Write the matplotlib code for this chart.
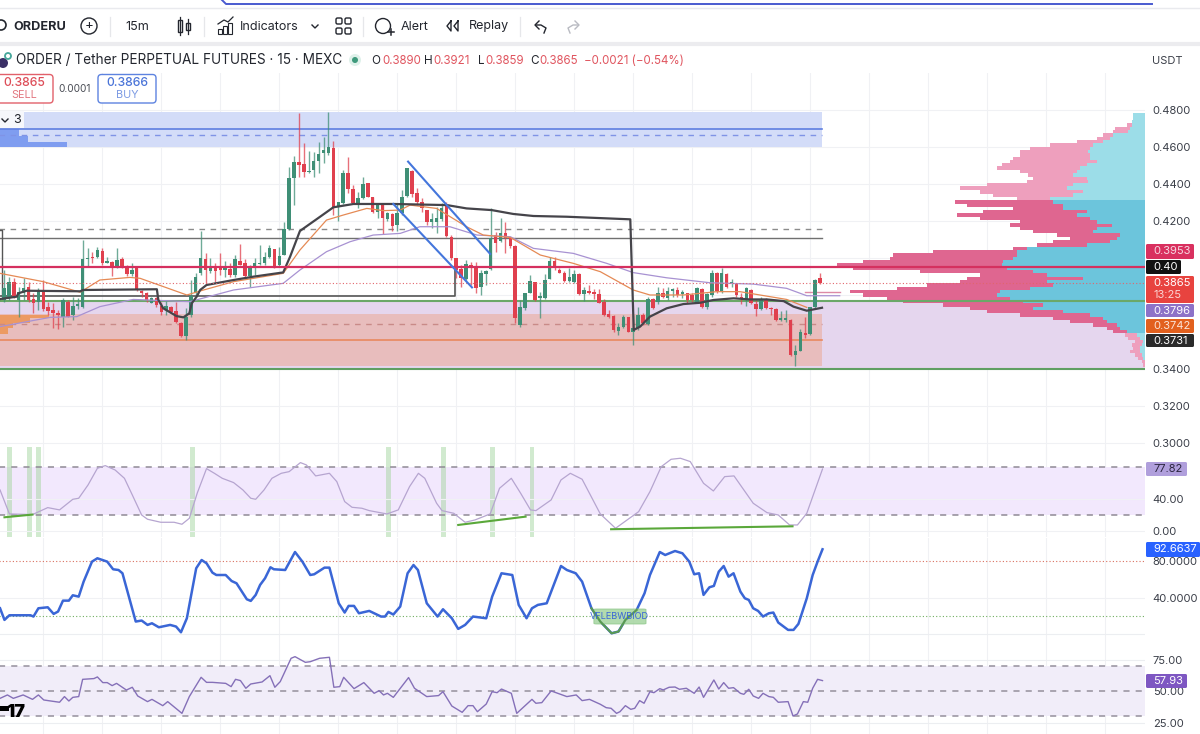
import numpy as np
import matplotlib
matplotlib.use("Agg")
import matplotlib.pyplot as plt
from matplotlib.patches import Rectangle, FancyBboxPatch, Circle

plt.rcParams["font.family"] = ["Inter", "DejaVu Sans"]

# candles, 15m bars
opens = [.3773,.3791,.3872,.3773,.3809,.3845,.3776,.3760,.3823,.3737,.3719,.3701,.3683,.3764,.3692,.3740,.3733,.3993,.4002,.4003,
 .4039,.3973,.3980,.3953,.3993,.3957,.3912,.3944,.3823,.3809,.3758,.3782,.3740,.3719,.3737,.3715,.3650,.3580,.3692,.3809,
 .3917,.3993,.3932,.3959,.3944,.3935,.3939,.3908,.3985,.3971,.3903,.3959,.3968,.3975,.4003,.4047,.3962,.4016,.4155,.4434,
 .4521,.4506,.4465,.4476,.4524,.4566,.4566,.4596,.4277,.4295,.4461,.4371,.4295,.4322,.4404,.4331,.4247,.4292,.4209,.4238,
 .4178,.4245,.4335,.4472,.4350,.4304,.4259,.4193,.4196,.4211,.4281,.4115,.3998,.3939,.3885,.3962,.3953,.3845,.3914,.3939,
 .4124,.4094,.4137,.4106,.4065,.3638,.3728,.3812,.3870,.3782,.3784,.3886,.3984,.3935,.3921,.3875,.3872,.3914,.3805,.3823,
 .3818,.3803,.3764,.3697,.3688,.3607,.3629,.3679,.3602,.3620,.3692,.3643,.3776,.3760,.3812,.3784,.3823,.3827,.3805,.3809,
 .3800,.3764,.3831,.3733,.3800,.3921,.3823,.3914,.3863,.3863,.3791,.3776,.3827,.3750,.3722,.3776,.3728,.3722,.3665,.3665,
 .3665,.3476,.3499,.3597,.3587,.3733,.3890]
highs = [.3935,.3899,.3890,.3845,.3890,.3872,.3809,.3836,.3881,.3764,.3755,.3719,.3782,.3773,.3791,.3782,.4097,.4056,.4034,.4061,
 .4052,.4007,.3984,.4052,.4007,.3962,.3971,.3944,.3827,.3818,.3791,.3791,.3764,.3773,.3740,.3764,.3656,.3728,.3881,.3921,
 .4146,.4029,.3998,.3971,.4025,.3985,.3971,.4016,.4076,.3993,.3962,.3998,.4070,.4034,.4070,.4049,.4061,.4196,.4494,.4553,
 .4782,.4620,.4580,.4575,.4629,.4656,.4791,.4634,.4304,.4476,.4548,.4395,.4358,.4440,.4407,.4331,.4295,.4295,.4247,.4241,
 .4295,.4367,.4485,.4476,.4377,.4322,.4259,.4241,.4277,.4295,.4304,.4124,.3998,.3962,.3989,.3980,.3980,.3935,.3935,.4268,
 .4142,.4214,.4196,.4111,.4070,.3773,.3812,.3908,.3872,.3818,.3914,.4003,.4003,.3944,.3932,.3944,.3935,.3917,.3845,.3854,
 .3831,.3831,.3776,.3719,.3692,.3650,.3692,.3683,.3692,.3733,.3701,.3791,.3782,.3841,.3836,.3841,.3836,.3841,.3827,.3812,
 .3812,.3841,.3836,.3812,.3935,.3926,.3948,.3921,.3885,.3866,.3809,.3841,.3831,.3773,.3787,.3782,.3733,.3728,.3715,.3719,
 .3668,.3530,.3614,.3679,.3737,.3885,.3921]
lows = [.3764,.3773,.3782,.3683,.3773,.3764,.3701,.3719,.3715,.3692,.3620,.3614,.3629,.3683,.3665,.3722,.3728,.3959,.3975,.3998,
 .3962,.3971,.3903,.3948,.3944,.3904,.3903,.3823,.3787,.3764,.3755,.3737,.3692,.3692,.3704,.3650,.3575,.3557,.3683,.3800,
 .3908,.3866,.3917,.3872,.3908,.3899,.3899,.3899,.3962,.3890,.3845,.3908,.3962,.3962,.3998,.3944,.3953,.4016,.4151,.4286,
 .4436,.4436,.4461,.4436,.4461,.4512,.4557,.4232,.4202,.4292,.4353,.4292,.4268,.4317,.4328,.4245,.4214,.4128,.4202,.4148,
 .4148,.4232,.4331,.4328,.4286,.4250,.4178,.4160,.4133,.4202,.4115,.3989,.3890,.3845,.3881,.3854,.3809,.3800,.3854,.3935,
 .4034,.4088,.4029,.4052,.3647,.3625,.3719,.3809,.3767,.3674,.3780,.3885,.3935,.3917,.3872,.3872,.3866,.3800,.3767,.3803,
 .3778,.3755,.3686,.3674,.3602,.3584,.3620,.3598,.3530,.3611,.3638,.3638,.3722,.3751,.3782,.3773,.3791,.3791,.3782,.3755,
 .3764,.3758,.3728,.3722,.3791,.3812,.3812,.3836,.3845,.3791,.3751,.3740,.3751,.3686,.3719,.3722,.3692,.3661,.3661,.3656,
 .3470,.3418,.3495,.3566,.3584,.3728,.3859]
closes = [.3836,.3872,.3791,.3818,.3840,.3773,.3755,.3827,.3722,.3715,.3701,.3692,.3773,.3683,.3740,.3751,.3994,.4002,.3998,.4043,
 .3971,.3982,.3957,.3989,.3953,.3912,.3935,.3827,.3809,.3773,.3782,.3746,.3710,.3740,.3710,.3654,.3580,.3683,.3796,.3899,
 .4000,.3935,.3944,.3932,.3935,.3944,.3908,.3994,.3962,.3903,.3950,.3975,.3975,.4007,.4054,.3953,.4011,.4155,.4434,.4519,
 .4503,.4467,.4472,.4526,.4562,.4584,.4598,.4277,.4304,.4461,.4371,.4295,.4322,.4400,.4331,.4247,.4286,.4214,.4241,.4173,
 .4241,.4331,.4485,.4346,.4301,.4268,.4196,.4209,.4218,.4268,.4119,.3998,.3935,.3890,.3968,.3953,.3836,.3917,.3932,.4106,
 .4083,.4133,.4106,.4065,.3674,.3737,.3809,.3875,.3773,.3796,.3881,.3984,.3950,.3921,.3877,.3899,.3914,.3805,.3827,.3812,
 .3805,.3758,.3692,.3683,.3611,.3625,.3683,.3602,.3620,.3692,.3647,.3780,.3728,.3812,.3787,.3823,.3831,.3800,.3818,.3773,
 .3773,.3836,.3733,.3805,.3917,.3823,.3917,.3845,.3872,.3800,.3776,.3836,.3755,.3722,.3776,.3728,.3722,.3665,.3674,.3674,
 .3476,.3499,.3602,.3584,.3733,.3881,.3865]

# moving lines on the price pane (bar index, price)
vwap_idx = [-0.8,2.6,2.9,4.6,15.5,16.1,31.1,31.4,32.4,35.1,36.5,37.7,38.2,39.2,39.9,41.2,46.7,50.7,56.8,58.2,60.2,61.9,64.3,67.0,71.1,79.2,90.1,94.1,99.2,103.6,107.7,114.5,127.4,128.1,129.4,131.4,134.8,138.2,141.6,144.3,148.4,151.8,155.2,158.6,160.6,163.3,166.4]
vwap_val = [.3778,.3791,.3809,.3823,.3820,.3827,.3831,.3773,.3728,.3686,.3679,.3701,.3755,.3791,.3827,.3854,.3881,.3899,.3922,.4007,.4146,.4178,.4223,.4274,.4292,.4292,.4286,.4268,.4259,.4238,.4227,.4223,.4209,.3611,.3629,.3683,.3728,.3751,.3758,.3773,.3782,.3776,.3776,.3767,.3737,.3715,.3731]
ema_idx = [-0.8,8.0,15.5,19.5,25.6,27.7,37.2,40.6,46.7,56.8,60.2,65.6,69.0,73.8,77.2,80.6,82.6,88.0,94.1,97.5,103.0,109.1,115.8,121.3,128.0,131.4,138.2,145.0,149.7,159.2,163.3]
ema_val = [.3917,.3872,.3815,.3881,.3895,.3890,.3800,.3827,.3872,.3917,.4043,.4205,.4232,.4268,.4256,.4259,.4286,.4268,.4169,.4124,.4111,.4016,.3971,.3926,.3827,.3800,.3800,.3818,.3818,.3776,.3733]
ma_idx = [-0.8,9.4,14.8,19.5,26.3,37.8,46.7,56.8,60.2,65.6,70.4,75.1,80.6,84.6,90.7,96.2,103.0,107.7,115.8,122.6,128.0,134.8,143.7,152.4,159.2,163.3,170.0]
ma_val = [.3629,.3679,.3683,.3737,.3776,.3764,.3827,.3863,.3935,.4034,.4088,.4124,.4133,.4169,.4169,.4124,.4115,.4052,.4025,.3971,.3921,.3893,.3866,.3859,.3836,.3796,.3796]

# volume profile
vp_price = [.4773,.4755,.4737,.4719,.4701,.4683,.4665,.4647,.4629,.4611,.4593,.4575,.4557,.4539,.4521,.4503,.4485,.4467,.4449,.4431,
 .4413,.4395,.4377,.4358,.4340,.4322,.4304,.4286,.4268,.4250,.4232,.4214,.4196,.4178,.4160,.4142,.4124,.4106,.4088,.4070,
 .4052,.4034,.4016,.3998,.3980,.3962,.3944,.3926,.3908,.3890,.3872,.3854,.3836,.3818,.3800,.3782,.3764,.3746,.3728,.3710,
 .3692,.3674,.3656,.3638,.3620,.3602,.3584,.3566,.3548,.3530,.3512,.3494,.3476,.3458,.3440,.3422]
vp_total = [35,35,40,55,90,95,125,145,205,285,345,375,375,395,405,430,445,375,350,335,355,475,555,495,455,385,570,535,395,485,565,495,375,405,375,335,265,225,275,325,
 395,635,755,765,845,925,875,675,495,535,555,655,745,885,845,775,725,605,525,475,375,275,225,155,115,95,60,50,30,40,35,45,30,20,10,5]
vp_up = [35,35,40,40,45,50,95,105,125,155,165,170,165,165,145,175,195,205,215,175,170,215,235,185,215,285,275,245,245,175,205,165,145,100,145,155,75,85,105,175,
 355,385,385,395,425,430,415,335,295,185,295,275,345,435,445,405,365,305,335,245,165,125,115,85,75,55,25,15,5,10,15,15,10,5,0,0]

# oscillators
stoch_idx = [-0.8,1.1,5.8,8.9,11.3,14.0,15.2,17.1,19.0,20.6,22.6,24.5,26.1,28.0,29.2,31.9,34.6,36.2,37.7,39.3,41.2,42.8,44.4,46.7,48.6,50.2,51.2,52.9,54.5,56.4,58.0,60.3,61.5,63.4,66.2,67.7,69.3,70.8,72.8,74.3,77.9,80.2,82.5,84.3,85.6,88.0,89.1,91.5,93.8,95.8,98.9,100.8,103.2,105.1,107.1,108.2,111.3,113.3,115.2,117.6,121.3,124.4,129.1,131.4,133.7,135.7,137.6,139.6,142.3,144.3,146.6,148.5,152.4,155.2,157.5,159.8,161.4,163.3,166.5]
stoch_val = [51.4,21.1,20.3,29.1,26.2,39.6,40.9,57.7,78.7,82.1,76.6,66.1,45.1,19.8,14.4,10.6,10.6,8.1,15.6,47.2,78.3,72.4,66.1,60.7,51.4,40.9,39.6,51.4,66.1,72.4,74.5,85.9,83.0,69.1,72.4,61.9,36.7,29.5,28.3,25.3,21.1,26.2,55.6,72.4,66.1,34.6,25.3,21.9,10.6,13.5,21.1,53.5,66.1,47.2,26.2,25.3,38.8,64.0,72.4,64.9,21.1,3.0,24.0,49.3,80.8,90.1,91.4,87.2,59.8,50.1,68.2,69.1,34.6,22.8,19.8,7.2,7.2,21.9,77.8]
signal_bars = [1.1,5.2,7.1,38.3,78.3,89.4,99.4,107.4]

wave_idx = [-0.8,0.1,1.1,5.4,6.0,7.0,8.9,10.1,11.0,12.0,13.2,14.0,15.2,16.2,17.9,19.0,21.0,22.2,23.3,24.1,26.8,28.0,29.2,30.1,31.5,33.8,35.0,36.0,37.2,39.1,40.2,41.2,42.4,43.2,45.1,46.3,47.3,49.4,50.2,51.2,52.1,53.1,54.2,54.9,57.2,59.2,60.7,62.3,63.1,65.2,66.2,68.1,69.3,70.1,71.2,72.2,74.3,76.7,77.5,78.2,79.2,80.6,82.1,83.3,84.2,86.0,88.2,89.3,91.1,92.4,93.8,95.4,98.1,99.3,101.2,103.4,104.7,106.3,107.4,108.6,110.4,113.3,114.5,116.3,117.6,119.5,121.3,123.6,125.0,126.4,128.7,130.3,131.4,133.4,134.5,136.5,138.0,139.4,140.4,141.4,142.3,143.5,144.4,145.4,146.4,147.4,148.4,149.8,150.7,151.5,152.4,153.4,154.4,155.6,156.5,157.5,159.5,160.6,161.6,163.3,164.5,165.5,166.5]
wave_val = [28.3,15.5,20.6,20.6,19.2,28.3,29.4,22.1,24.7,36.7,36.7,42.6,41.1,57.6,79.6,83.3,79.6,71.2,70.4,66.8,13.7,14.8,10.0,11.8,7.4,10.0,8.2,1.9,17.3,72.3,81.4,77.8,67.5,64.9,64.9,58.3,55.8,38.2,36.4,43.0,54.0,61.3,73.4,71.2,70.4,90.2,79.6,64.9,65.7,73.0,73.0,33.8,23.6,30.9,30.9,22.8,25.4,19.2,19.2,24.3,21.4,30.2,66.8,75.9,70.4,33.8,19.2,27.2,17.3,5.6,10.0,19.2,17.3,41.1,66.8,64.9,32.0,17.3,28.3,32.0,33.8,74.8,70.4,66.8,57.6,28.3,13.7,0.8,2.7,15.5,26.5,44.8,64.9,90.2,86.9,91.3,88.8,79.6,65.7,66.8,43.0,51.4,52.9,68.6,74.8,63.1,66.8,46.6,39.3,37.5,28.3,25.4,19.2,22.8,23.6,12.6,4.5,4.5,11.1,39.3,64.9,79.6,93.2]

rsi_idx = [-0.8,0.7,1.9,3.9,5.8,7.0,8.1,11.3,12.3,13.2,14.0,15.2,16.0,18.3,19.0,20.1,21.0,22.0,22.9,24.9,26.1,27.2,29.2,30.1,32.3,33.3,36.2,37.7,40.1,41.2,42.4,45.1,46.2,47.1,48.1,49.2,50.2,52.5,54.1,55.1,56.2,58.4,59.2,61.3,62.3,64.2,66.2,67.1,68.3,69.1,71.2,73.2,75.3,76.3,77.2,78.0,79.2,82.3,83.5,86.0,88.4,89.3,91.1,93.2,94.4,95.4,96.3,98.1,99.3,100.3,101.2,103.2,104.3,107.4,108.2,109.4,111.3,114.5,116.4,117.6,119.1,121.3,122.5,123.5,124.6,125.3,126.4,127.5,128.3,129.3,130.2,131.4,132.2,133.4,134.1,135.3,136.5,137.4,138.8,140.4,141.4,142.3,144.4,145.4,146.4,147.4,148.4,149.8,150.5,151.5,152.4,153.5,154.4,155.6,156.5,157.5,159.5,160.5,161.4,162.6,163.5,164.5,165.5,166.5]
rsi_val = [44.3,47.0,44.3,47.0,43.5,47.0,43.0,41.2,45.7,42.2,45.1,45.7,59.4,60.0,61.3,56.8,56.8,54.4,56.2,50.9,53.1,46.2,41.7,43.5,38.5,41.7,32.4,45.7,61.0,57.0,57.0,56.2,53.6,59.4,58.4,52.3,55.7,57.3,62.3,53.1,57.6,76.1,77.4,72.9,73.4,76.1,76.9,53.1,53.6,61.0,52.0,56.8,48.3,50.4,47.0,48.3,45.1,60.8,52.3,45.7,46.5,49.6,38.2,33.2,38.5,38.5,33.7,39.8,49.6,48.8,51.7,48.3,32.4,43.5,40.4,40.9,50.2,45.7,47.0,42.5,43.5,39.6,36.9,36.4,32.4,33.7,38.5,35.6,36.4,42.5,40.4,49.6,48.8,52.0,51.0,53.1,53.3,51.5,52.3,48.3,53.3,45.1,58.9,51.7,56.8,52.3,52.8,48.3,47.5,51.5,46.2,44.3,48.3,45.7,45.1,41.2,41.7,30.3,31.9,41.7,41.2,52.3,59.4,58.4]

price_ticks = [.30,.32,.34,.42,.44,.46,.48]
price_grid = [.30,.32,.34,.36,.38,.40,.42,.44,.46,.48]
bar_ticks = [8,20,32,44,56,68,80,92,104,116,128,140,152,164,176,188,200,212,224]

GREEN = "#3f8f76"
RED = "#e0404e"
BAND_R = 822
W, H = 1200, 734
fig = plt.figure(figsize=(12, 7.34), dpi=100, facecolor="white")


def axes_px(top, bottom):
    # panes share the same x span, only the height changes
    ax = fig.add_axes([0, 1 - bottom / H, 1145 / W, (bottom - top) / H])
    ax.set_xlim(-0.81, 232.1)
    ax.patch.set_alpha(0)
    for s in ax.spines.values():
        s.set_visible(False)
    ax.set_xticks(bar_ticks)
    ax.grid(axis="x", color="#f0f1f4", lw=0.8, zorder=0)
    ax.tick_params(axis="x", length=0, labelbottom=False)
    ax.yaxis.tick_right()
    ax.tick_params(axis="y", length=0, labelsize=8.0, labelcolor="#3a3e48", pad=5.5)
    ax.set_axisbelow(True)
    return ax


# price pane
ax = axes_px(73, 460)
ax.set_ylim(0.2908, 0.5)
ax.set_yticks(price_ticks)
ax.set_yticklabels([f"{v:.4f}" for v in price_ticks])
for v in price_grid:
    ax.axhline(v, color="#f0f1f4", lw=0.8, zorder=0)

xr = 232.1
xb = (BAND_R - 4) / 4.915
ax.add_patch(Rectangle((-1, .3402), xr + 1, .3767 - .3402, fc="#e5d6ee", ec="none", zorder=1))
ax.add_patch(Rectangle((-1, .3418), xb + 1, .3695 - .3418, fc="#e8bdbd", ec="none", zorder=1.1))
ax.add_patch(Rectangle((-1, .4602), xb + 1, .4789 - .4602, fc="#d3dcf8", ec="none", zorder=1))

# small profiles at the left edge
ax.barh([.4675, .4644, .4614], [3.9, 5.7, 13.7], left=-0.81, height=[.0042, .0030, .0024], color="#7f9df0", zorder=1.2)
ax.barh([.3683, .3662, .3636, .3605], [10, 6.2, 2.7, 1.7], left=-0.81, height=[.0018, .0024, .0028, .0030], color="#ec9a63", zorder=1.2)

# profile on the right
vp_scale = 1 / 14.745
for p, t, u in zip(vp_price, vp_total, vp_up):
    dark = .3590 < p < .4314
    ax.barh(p, t * vp_scale, left=xr - t * vp_scale, height=.00192, color="#df6690" if dark else "#ee9fbd", zorder=2, lw=0)
    ax.barh(p, u * vp_scale, left=xr - u * vp_scale, height=.00192, color="#6cc5dc" if dark else "#9cdde8", zorder=2.1, lw=0)

ax.plot([-1, xr], [.3767, .3767], color="#6ba868", lw=1.5, zorder=2.5)
ax.plot([-1, xr], [.3402, .3402], color="#5f9f62", lw=1.5, zorder=2.5)
ax.plot([-1, xb], [.3557, .3557], color="#e8895f", lw=1.2, zorder=2.5)
ax.plot([-1, xb], [.3641, .3641], color="#c98a88", lw=1, ls=(0, (4, 4)), zorder=2.5)
ax.plot([-1, xb], [.4695, .4695], color="#5f7fe0", lw=1.2, zorder=2.5)
ax.plot([-1, xb], [.4667, .4667], color="#7f93e6", lw=1, ls=(0, (4, 4)), zorder=2.5)
ax.plot([-1, 84], [.4155, .4155], color="#8b8b8b", lw=1, ls=(0, (4, 4)), zorder=2.5)
ax.plot([97.5, xb], [.4155, .4155], color="#8b8b8b", lw=1, ls=(0, (4, 4)), zorder=2.5)
ax.plot([-1, xb], [.4106, .4106], color="#707070", lw=1, zorder=2.5)
ax.plot([-1, 91.7, 91.7], [.3796, .3796, .3953], color="#555555", lw=1.2, zorder=2.5)
ax.plot([-0.4, -0.4, -1], [.3796, .4150, .4150], color="#555555", lw=1, zorder=2.5)
ax.plot([-1, xr], [.3953, .3953], color="#d5305f", lw=1.6, zorder=3.6)
ax.plot([-1, xr], [.3865, .3865], color="#e2656b", lw=0.8, ls=(0, (1, 2)), zorder=3.6)
ax.plot([163, 170], [.3818, .3818], color="#dc8aa6", lw=1, zorder=2.6)

# candles
for i in range(len(opens)):
    col = GREEN if closes[i] >= opens[i] else RED
    ax.vlines(i, lows[i], highs[i], color=col, lw=1, alpha=0.75, zorder=3)
    ax.bar(i, max(abs(closes[i] - opens[i]), .0007), bottom=min(opens[i], closes[i]), width=0.72, color=col, zorder=3.1, lw=0)

ax.plot(ma_idx, ma_val, color="#a892d2", lw=0.9, zorder=3.3)
ax.plot(ema_idx, ema_val, color="#e58a55", lw=0.9, zorder=3.4)
ax.plot(vwap_idx, vwap_val, color="#45444a", lw=1.6, zorder=3.5, solid_joinstyle="round")
ax.plot([82.2, 98.9], [.4521, .4022], color="#4476dc", lw=1.5, zorder=3.7)
ax.plot([79.2, 95.2], [.4292, .3841], color="#4476dc", lw=1.5, zorder=3.7)

# stochastic pane
ax1 = axes_px(447, 537)
ax1.set_ylim(-8, 105.6)
ax1.set_yticks([0, 40])
ax1.set_yticklabels(["0.00", "40.00"])
ax1.axhline(0, color="#f0f1f4", lw=0.8)
ax1.axhline(40, color="#f0f1f4", lw=0.8)
ax1.add_patch(Rectangle((-1, 20), xr + 1, 60, fc="#f2e8fd", ec="none", zorder=1))
for b in signal_bars:
    ax1.add_patch(Rectangle((b - 0.5, -8), 1, 113, fc="#a5d6a0", alpha=0.5, ec="none", zorder=1.2))
ax1.plot([-1, xr], [80, 80], color="#8f8a95", lw=1.1, ls=(0, (4, 4)), zorder=2)
ax1.plot([-1, xr], [20, 20], color="#8f8a95", lw=1.1, ls=(0, (4, 4)), zorder=2)
ax1.plot(stoch_idx, stoch_val, color="#b6a5d0", lw=0.9, zorder=3)
ax1.plot([0.1, 5.8], [16.9, 20.3], color="#5aa83a", lw=1.5, zorder=4)
ax1.plot([92.4, 106.1], [7.2, 17.7], color="#5aa83a", lw=1.5, zorder=4)
ax1.plot([123.5, 160.4], [1.8, 5.5], color="#5aa83a", lw=1.5, zorder=4)

# wave pane
ax2 = axes_px(538, 636)
ax2.set_ylim(-2.2, 105.6)
ax2.set_yticks([40, 80])
ax2.set_yticklabels(["40.0000", "80.0000"])
ax2.axhline(0, color="#eceef1", lw=0.8)
ax2.axhline(40, color="#f0f1f4", lw=0.8)
ax2.plot([-1, xr], [80, 80], color="#d9705f", lw=0.8, ls=(0, (1, 2)), zorder=2)
ax2.plot([-1, xr], [20, 20], color="#6fae5f", lw=0.8, ls=(0, (1, 2)), zorder=2)
ax2.plot(wave_idx, wave_val, color="#3a66d6", lw=1.8, zorder=3, solid_joinstyle="round")
ax2.plot(wave_idx[85:91], wave_val[85:91], color="#5a9a52", lw=1.5, zorder=3.5)
ax2.add_patch(FancyBboxPatch((120, 11), 10.6, 16.5, boxstyle="round,pad=0,rounding_size=0.6", fc="#a5d5a0", alpha=0.85, ec="#8cc688", lw=0.6, zorder=3.2))
ax2.text(125.2, 19.3, "VFLEBWBIOD", fontsize=6.6, color="#3a66d6", va="center", ha="center", zorder=4)

# rsi pane
ax3 = axes_px(636, 734)
ax3.set_ylim(16.0, 93.8)
ax3.set_yticks([25, 50, 75])
ax3.set_yticklabels(["25.00", "50.00", "75.00"])
ax3.axhline(25, color="#eceef1", lw=0.8)
ax3.axhline(75, color="#eceef1", lw=0.8)
ax3.add_patch(Rectangle((-1, 30), xr + 1, 40, fc="#f1edf9", ec="none", zorder=1))
for v in [70, 50, 30]:
    ax3.plot([-1, xr], [v, v], color="#95909c", lw=1.1, ls=(0, (4, 4)), zorder=2)
ax3.plot(rsi_idx, rsi_val, color="#8570b8", lw=1.0, zorder=3)

# toolbar, legend and tags on a pixel overlay
ov = fig.add_axes([0, 0, 1, 1], zorder=10)
ov.set_xlim(0, W)
ov.set_ylim(H, 0)
ov.axis("off")


def tag(x0, x1, y0, y1, color, txt, tcolor="white"):
    ov.add_patch(FancyBboxPatch((x0, y0), x1 - x0, y1 - y0, boxstyle="round,pad=0,rounding_size=1.5", fc=color, ec="none"))
    ov.text(x0 + 7, (y0 + y1) / 2, txt, color=tcolor, fontsize=8.0, va="center", ha="left")


def lab(x, y, s, size=9.0, color="#23262e", **kw):
    ov.text(x, y, s, fontsize=size, color=color, va="center", **kw)


ov.plot([0, W], [8, 8], color="#e9eaee", lw=1)
ov.plot([0, W], [44, 44], color="#ececef", lw=3)
ov.plot([222, 226, 1152], [0, 4, 4], color="#4a5bd0", lw=1.4)
for sx in [110, 204, 363, 520]:
    ov.plot([sx, sx], [17, 36], color="#e6e7ea", lw=0.9)

ov.add_patch(Circle((1, 25), 5, fc="none", ec="#23262e", lw=1.2))
lab(13, 26.5, "ORDERU", size=9.1, fontweight="bold")
ov.add_patch(Circle((89, 26), 8, fc="none", ec="#23262e", lw=1))
lab(89, 26, "+", size=9.5, ha="center")
lab(125, 27, "15m")
ov.add_patch(Rectangle((178, 20), 4, 12, fc="none", ec="#23262e", lw=1))
ov.add_patch(Rectangle((186, 23), 4, 7, fc="none", ec="#23262e", lw=1))
ov.plot([180, 180], [17, 35], color="#23262e", lw=0.9)
ov.plot([188, 188], [19, 34], color="#23262e", lw=0.9)
for bx, bh in zip([218, 223, 228], [5, 8, 11]):
    ov.add_patch(Rectangle((bx, 34 - bh), 3.5, bh, fc="none", ec="#23262e", lw=0.8))
ov.plot([218, 224, 228, 233], [24, 20, 22, 17], color="#23262e", lw=0.9)
lab(240, 26.5, "Indicators")
ov.plot([312, 315, 318], [25, 28, 25], color="#23262e", lw=1)
for gx, gy in [(336, 18), (345, 18), (336, 28), (345, 28)]:
    ov.add_patch(FancyBboxPatch((gx, gy), 6, 6, boxstyle="round,pad=0,rounding_size=1.5", fc="none", ec="#23262e", lw=1))
ov.add_patch(Circle((383, 26), 7.5, fc="none", ec="#23262e", lw=1))
ov.plot([388, 394], [32, 32], color="#23262e", lw=1.1)
ov.plot([391, 391], [29, 35], color="#23262e", lw=1.1)
lab(401, 26.5, "Alert")
ov.plot([451, 447, 451, 451], [21, 26, 31, 21], color="#23262e", lw=1)
ov.plot([458, 454, 458, 458], [21, 26, 31, 21], color="#23262e", lw=1)
lab(469, 26.5, "Replay")
ov.plot([536, 541, 546, 544], [25, 25, 28, 33], color="#23262e", lw=1)
ov.plot([539, 535, 539], [21, 25, 29], color="#23262e", lw=1)
ov.plot([578, 573, 568, 570], [25, 25, 28, 33], color="#b9bbc2", lw=1)
ov.plot([575, 579, 575], [21, 25, 29], color="#b9bbc2", lw=1)

# symbol legend
ov.add_patch(Circle((3, 63), 5, fc="#3b2f66", ec="none"))
ov.add_patch(Circle((8, 56), 3, fc="none", ec="#45a79a", lw=1.3))
lab(16, 60.5, "ORDER / Tether PERPETUAL FUTURES · 15 · MEXC", size=9.8)
ov.add_patch(Circle((355, 60), 6, fc="#dff1ea", ec="none"))
ov.add_patch(Circle((355, 60), 3, fc="#3f9a7c", ec="none"))
for x, s in [(371, "O"), (424, "H"), (478, "L"), (530, "C")]:
    lab(x, 60.5, s, size=8.4)
for x, s in [(382.5, "0.3890"), (433, "0.3921"), (485, "0.3859"), (539, "0.3865"), (584, "−0.0021 (−0.54%)")]:
    lab(x, 60.5, s, size=8.3, color="#e0555f")
lab(1152, 60.5, "USDT", size=8.0, color="#3a3e48")

# sell / buy buttons
ov.add_patch(FancyBboxPatch((-6, 74.5), 59, 28.5, boxstyle="round,pad=0,rounding_size=3.5", fc="white", ec="#e2606a", lw=1))
ov.add_patch(FancyBboxPatch((98, 74.5), 58, 28.5, boxstyle="round,pad=0,rounding_size=3.5", fc="white", ec="#5d83e0", lw=1))
lab(24, 83.5, "0.3865", size=8.8, color="#dd4d58", ha="center", fontweight="medium")
lab(24, 95.5, "SELL", size=7.8, color="#e27780", ha="center")
lab(75, 89, "0.0001", size=7.3, color="#4a4d55", ha="center")
lab(127, 83.5, "0.3866", size=8.8, color="#4a74d8", ha="center", fontweight="medium")
lab(127, 95.5, "BUY", size=7.8, color="#7c9ae3", ha="center")

# collapsed indicators chip
ov.add_patch(Rectangle((0, 111), 24, 17, fc="#f6f7fb", ec="none"))
ov.plot([2, 5, 8], [119, 122, 119], color="#23262e", lw=1)
lab(13, 120, "3", size=9)

# last value tags
tag(1146, 1194, 244, 259, "#d9305f", "0.3953", "#f6d9e2")
tag(1146, 1181, 260, 274, "#111111", "0.40")
ov.add_patch(FancyBboxPatch((1146, 276), 48, 27, boxstyle="round,pad=0,rounding_size=1.5", fc="#e8433f", ec="none"))
ov.text(1153, 283, "0.3865", color="white", fontsize=8.0, va="center")
ov.text(1153, 295.5, "13:25", color="#fbd5d3", fontsize=8.0, va="center")
tag(1146, 1194, 304, 317, "#8d72c8", "0.3796")
tag(1146, 1194, 319, 333, "#e2601e", "0.3742", "#fbe3d6")
tag(1146, 1194, 334, 347, "#2a2a2a", "0.3731")
tag(1146, 1187, 462, 476, "#b09fdc", "77.82", "#2c2640")
tag(1146, 1200, 542, 557, "#2962ff", "92.6637")
tag(1146, 1187, 674, 688, "#7e57c2", "57.93")

# logo bit in the corner
ov.add_patch(Rectangle((0, 706), 9, 5, fc="black", ec="none"))
lab(25, 712.5, "17", size=13, color="black", ha="right", fontweight="black")

fig.savefig("out.png", dpi=100)
